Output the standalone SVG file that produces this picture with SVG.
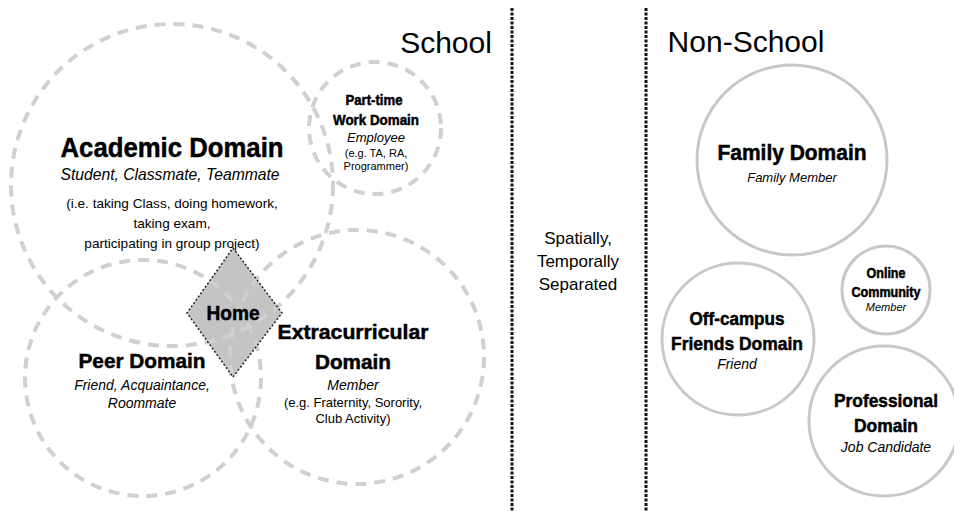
<svg xmlns="http://www.w3.org/2000/svg" xmlns:xlink="http://www.w3.org/1999/xlink" width="954" height="511" viewBox="0 0 954 511">
<style>
.dash{fill:none;stroke:#d0d0d0;stroke-width:4;stroke-dasharray:11 8}
.solid{fill:#fff;stroke:#c8c8c8;stroke-width:3}
.div{stroke:#111;stroke-width:3;stroke-dasharray:3 1.5}
text{font-family:"Liberation Sans",Arial,sans-serif;fill:#000;text-anchor:middle}
.b{font-weight:bold;stroke:#000;stroke-width:0.5}
.i{font-style:italic}
.h{font-size:30px}
</style>
<defs>
<circle id="cAcad" cx="172" cy="185" r="161"/>
<circle id="cPart" cx="375" cy="128" r="66"/>
<circle id="cPeer" cx="143" cy="378" r="118"/>
<circle id="cExtra" cx="357" cy="357" r="127"/>
<clipPath id="diamClip"><polygon points="233,248 282,313 233,377 187,313"/></clipPath>
</defs>
<rect width="954" height="511" fill="#fff"/>
<g id="connectors">
<line class="div" x1="512" y1="8" x2="512" y2="511"/>
<line class="div" x1="646" y1="8" x2="646" y2="511"/>
</g>
<g id="labels">
<text class="h" x="446" y="53">School</text>
<text class="h" x="746" y="52">Non-School</text>
<text x="578" y="244" font-size="17">Spatially,</text>
<text x="578" y="267" font-size="17">Temporally</text>
<text x="578" y="290" font-size="17">Separated</text>
</g>
<g id="academic">
<use xlink:href="#cAcad" class="dash"/>
<text class="b" x="172" y="157" font-size="28" textLength="223" lengthAdjust="spacingAndGlyphs">Academic Domain</text>
<text class="i" x="170" y="180" font-size="15.7">Student, Classmate, Teammate</text>
<text x="172" y="208" font-size="13.6">(i.e. taking Class, doing homework,</text>
<text x="172" y="228" font-size="13.6">taking exam,</text>
<text x="172" y="248" font-size="13.6">participating in group project)</text>
</g>
<g id="parttime">
<use xlink:href="#cPart" class="dash"/>
<text class="b" x="374" y="105" font-size="15" textLength="57" lengthAdjust="spacingAndGlyphs">Part-time</text>
<text class="b" x="376" y="125" font-size="15" textLength="86" lengthAdjust="spacingAndGlyphs">Work Domain</text>
<text class="i" x="376" y="142" font-size="13">Employee</text>
<text x="376" y="157" font-size="11">(e.g. TA, RA,</text>
<text x="376" y="170" font-size="11">Programmer)</text>
</g>
<g id="peer">
<use xlink:href="#cPeer" class="dash"/>
<text class="b" x="142" y="368" font-size="21" textLength="127" lengthAdjust="spacingAndGlyphs">Peer Domain</text>
<text class="i" x="142" y="390" font-size="14">Friend, Acquaintance,</text>
<text class="i" x="142" y="408" font-size="14">Roommate</text>
</g>
<g id="extracurricular">
<use xlink:href="#cExtra" class="dash"/>
<text class="b" x="353" y="339" font-size="21" textLength="151" lengthAdjust="spacingAndGlyphs">Extracurricular</text>
<text class="b" x="353" y="369" font-size="21" textLength="76" lengthAdjust="spacingAndGlyphs">Domain</text>
<text class="i" x="353" y="390" font-size="14">Member</text>
<text x="353" y="407" font-size="13">(e.g. Fraternity, Sorority,</text>
<text x="353" y="423" font-size="13">Club Activity)</text>
</g>
<g id="home">
<polygon points="233,248 282,313 233,377 187,313" fill="#c4c4c4"/>
<g clip-path="url(#diamClip)">
<use xlink:href="#cAcad" class="dash"/>
<use xlink:href="#cPeer" class="dash"/>
<use xlink:href="#cExtra" class="dash"/>
</g>
<polygon points="233,248 282,313 233,377 187,313" fill="none" stroke="#222" stroke-width="1.5" stroke-dasharray="2 2"/>
<text class="b" x="233" y="320" font-size="21" textLength="53" lengthAdjust="spacingAndGlyphs">Home</text>
</g>
<g id="family">
<circle class="solid" cx="792" cy="160" r="95"/>
<text class="b" x="792" y="160" font-size="22" textLength="149" lengthAdjust="spacingAndGlyphs">Family Domain</text>
<text class="i" x="792" y="182" font-size="13">Family Member</text>
</g>
<g id="online">
<circle class="solid" cx="886" cy="290" r="44"/>
<text class="b" x="886" y="278" font-size="14" textLength="39" lengthAdjust="spacingAndGlyphs">Online</text>
<text class="b" x="886" y="297" font-size="14" textLength="69" lengthAdjust="spacingAndGlyphs">Community</text>
<text class="i" x="886" y="311" font-size="11">Member</text>
</g>
<g id="offcampus">
<circle class="solid" cx="738" cy="339" r="76"/>
<text class="b" x="737" y="325" font-size="19" textLength="95" lengthAdjust="spacingAndGlyphs">Off-campus</text>
<text class="b" x="737" y="350" font-size="19" textLength="132" lengthAdjust="spacingAndGlyphs">Friends Domain</text>
<text class="i" x="737" y="369" font-size="14">Friend</text>
</g>
<g id="professional">
<circle class="solid" cx="884" cy="421" r="75"/>
<text class="b" x="886" y="407" font-size="19" textLength="104" lengthAdjust="spacingAndGlyphs">Professional</text>
<text class="b" x="886" y="432" font-size="19" textLength="64" lengthAdjust="spacingAndGlyphs">Domain</text>
<text class="i" x="886" y="452" font-size="14">Job Candidate</text>
</g>
</svg>
